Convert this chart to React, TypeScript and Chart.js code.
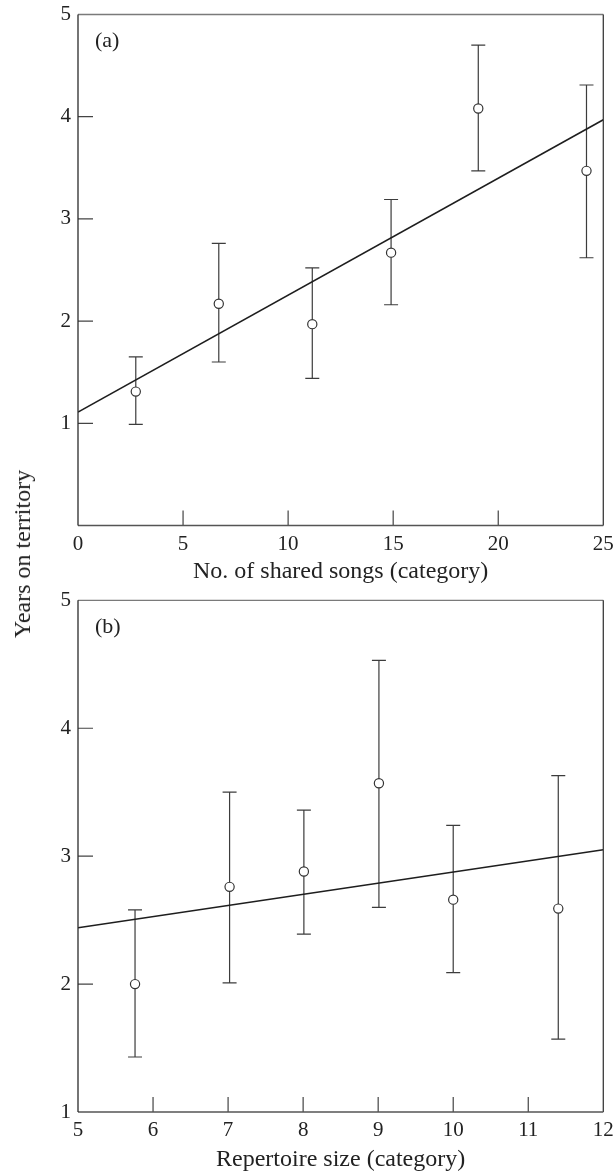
import React, { useEffect, useRef } from 'react';
import { Chart, registerables } from 'chart.js';

Chart.register(...registerables);

// Panel (a): number of shared songs
const sharedSongs = [2.75, 6.7, 11.15, 14.9, 19.05, 24.2];
const yearsA = [1.31, 2.17, 1.97, 2.67, 4.08, 3.47];
const lowA = [0.99, 1.6, 1.44, 2.16, 3.47, 2.62];
const highA = [1.65, 2.76, 2.52, 3.19, 4.7, 4.31];
const fitXA = [0, 25];
const fitYA = [1.11, 3.97];
const innerTicksXA = [5, 10, 15, 20];
const innerTicksYA = [1, 2, 3, 4];

// Panel (b): repertoire size
const repertoire = [5.76, 7.02, 8.01, 9.01, 10.0, 11.4];
const yearsB = [2.0, 2.76, 2.88, 3.57, 2.66, 2.59];
const lowB = [1.43, 2.01, 2.39, 2.6, 2.09, 1.57];
const highB = [2.58, 3.5, 3.36, 4.53, 3.24, 3.63];
const fitXB = [5, 12];
const fitYB = [2.44, 3.05];
const innerTicksXB = [6, 7, 8, 9, 10, 11];
const innerTicksYB = [2, 3, 4];

const FONT_FAMILY = '"Liberation Serif", "Times New Roman", serif';
const FONT_SIZE = 21;
const TITLE_SIZE = 24;
const TEXT = '#222';

const decorPlugin = {
  id: 'panelDecor',
  beforeDatasetsDraw(chart: any, _args: any, opts: any) {
    const { ctx, scales } = chart;
    const x = scales.x;
    const y = scales.y;
    ctx.save();
    ctx.strokeStyle = '#3c3c3c';
    ctx.lineWidth = 1.2;
    opts.xs.forEach((xv: number, i: number) => {
      const px = x.getPixelForValue(xv);
      const pl = y.getPixelForValue(opts.low[i]);
      const ph = y.getPixelForValue(opts.high[i]);
      ctx.beginPath();
      ctx.moveTo(px, pl);
      ctx.lineTo(px, ph);
      ctx.moveTo(px - 7, pl);
      ctx.lineTo(px + 7, pl);
      ctx.moveTo(px - 7, ph);
      ctx.lineTo(px + 7, ph);
      ctx.stroke();
    });
    ctx.restore();
  },
  afterDraw(chart: any, _args: any, opts: any) {
    const { ctx, chartArea: a, scales } = chart;
    const x = scales.x;
    const y = scales.y;
    ctx.save();
    // inward ticks
    ctx.strokeStyle = '#444';
    ctx.lineWidth = 1.2;
    ctx.beginPath();
    opts.yTicks.forEach((v: number) => {
      const py = y.getPixelForValue(v);
      ctx.moveTo(a.left, py);
      ctx.lineTo(a.left + 15, py);
    });
    opts.xTicks.forEach((v: number) => {
      const px = x.getPixelForValue(v);
      ctx.moveTo(px, a.bottom);
      ctx.lineTo(px, a.bottom - 15);
    });
    ctx.stroke();
    // frame
    ctx.lineWidth = 1.3;
    ctx.strokeStyle = '#7a7a7a';
    ctx.beginPath();
    ctx.moveTo(a.left, a.top);
    ctx.lineTo(a.right, a.top);
    ctx.stroke();
    ctx.strokeStyle = '#3a3a3a';
    ctx.beginPath();
    ctx.moveTo(a.right, a.top);
    ctx.lineTo(a.right, a.bottom);
    ctx.stroke();
    ctx.strokeStyle = '#555';
    ctx.beginPath();
    ctx.moveTo(a.left, a.bottom);
    ctx.lineTo(a.right, a.bottom);
    ctx.stroke();
    ctx.strokeStyle = '#2a2a2a';
    ctx.beginPath();
    ctx.moveTo(a.left, a.top);
    ctx.lineTo(a.left, a.bottom);
    ctx.stroke();
    // panel letter
    ctx.fillStyle = TEXT;
    ctx.font = `${FONT_SIZE + 1}px ${FONT_FAMILY}`;
    ctx.textAlign = 'left';
    ctx.textBaseline = 'middle';
    ctx.fillText(opts.letter, a.left + 17, a.top + 27);
    ctx.restore();
  },
};

interface PanelProps {
  width: number;
  height: number;
  top: number;
  padTop: number;
  xAxisHeight: number;
  titlePadBottom: number;
  xs: number[];
  ys: number[];
  low: number[];
  high: number[];
  fitX: number[];
  fitY: number[];
  xMin: number;
  xMax: number;
  xStep: number;
  yMin: number;
  yMax: number;
  hideYMin: boolean;
  xTitle: string;
  letter: string;
  xTicks: number[];
  yTicks: number[];
}

function Panel(p: PanelProps) {
  const ref = useRef<HTMLCanvasElement>(null);
  useEffect(() => {
    if (!ref.current) return;
    const font = { family: FONT_FAMILY, size: FONT_SIZE };
    const titleFont = { family: FONT_FAMILY, size: TITLE_SIZE, lineHeight: 1 };
    const chart = new Chart(ref.current, {
      type: 'scatter',
      data: {
        datasets: [
          {
            data: p.xs.map((xv, i) => ({ x: xv, y: p.ys[i] })),
            pointRadius: 4.6,
            pointHoverRadius: 4.6,
            pointBackgroundColor: '#ffffff',
            pointBorderColor: '#333',
            pointBorderWidth: 1.2,
            showLine: false,
          },
          {
            data: p.fitX.map((xv, i) => ({ x: xv, y: p.fitY[i] })),
            showLine: true,
            borderColor: '#1e1e1e',
            borderWidth: 1.6,
            pointRadius: 0,
            fill: false,
          },
        ],
      },
      options: {
        responsive: false,
        animation: false,
        events: [],
        layout: { padding: { top: p.padTop, left: 0, right: 12.7, bottom: 0 } },
        plugins: {
          legend: { display: false },
          tooltip: { enabled: false },
          panelDecor: {
            xs: p.xs,
            low: p.low,
            high: p.high,
            letter: p.letter,
            xTicks: p.xTicks,
            yTicks: p.yTicks,
          },
        } as any,
        scales: {
          x: {
            type: 'linear',
            min: p.xMin,
            max: p.xMax,
            grid: { display: false, drawTicks: false },
            border: { display: false },
            ticks: {
              stepSize: p.xStep,
              font,
              color: TEXT,
              padding: 6,
              maxRotation: 0,
              autoSkip: false,
            },
            title: {
              display: true,
              text: p.xTitle,
              font: titleFont,
              color: TEXT,
              padding: { top: 0, bottom: p.titlePadBottom },
            },
            afterFit: (s: any) => {
              s.height = p.xAxisHeight;
              s.paddingLeft = 0;
              s.paddingRight = 0;
            },
          },
          y: {
            type: 'linear',
            min: p.yMin,
            max: p.yMax,
            grid: { display: false, drawTicks: false },
            border: { display: false },
            ticks: {
              stepSize: 1,
              font,
              color: TEXT,
              padding: 7,
              callback: (v: any) => (p.hideYMin && v === p.yMin ? '' : String(v)),
            },
            afterFit: (s: any) => {
              s.width = 78;
              s.paddingTop = 0;
              s.paddingBottom = 0;
            },
          },
        },
      },
      plugins: [decorPlugin],
    } as any);
    return () => chart.destroy();
  }, []);
  return (
    <canvas
      ref={ref}
      width={p.width}
      height={p.height}
      style={{ position: 'absolute', left: 0, top: p.top, width: p.width, height: p.height }}
    />
  );
}

export default function App() {
  return (
    <div style={{ position: 'absolute', left: 0, top: 0, width: 616, height: 1172, background: '#fff' }}>
      <Panel
        width={616}
        height={590}
        top={0}
        padTop={14.5}
        xAxisHeight={64.5}
        titlePadBottom={6}
        xs={sharedSongs}
        ys={yearsA}
        low={lowA}
        high={highA}
        fitX={fitXA}
        fitY={fitYA}
        xMin={0}
        xMax={25}
        xStep={5}
        yMin={0}
        yMax={5}
        hideYMin={true}
        xTitle="No. of shared songs (category)"
        letter="(a)"
        xTicks={innerTicksXA}
        yTicks={innerTicksYA}
      />
      <Panel
        width={616}
        height={582}
        top={590}
        padTop={10.3}
        xAxisHeight={60}
        titlePadBottom={0}
        xs={repertoire}
        ys={yearsB}
        low={lowB}
        high={highB}
        fitX={fitXB}
        fitY={fitYB}
        xMin={5}
        xMax={12}
        xStep={1}
        yMin={1}
        yMax={5}
        hideYMin={false}
        xTitle="Repertoire size (category)"
        letter="(b)"
        xTicks={innerTicksXB}
        yTicks={innerTicksYB}
      />
      <div
        style={{
          position: 'absolute',
          left: 22,
          top: 554,
          transform: 'translate(-50%, -50%) rotate(-90deg)',
          whiteSpace: 'nowrap',
          fontFamily: FONT_FAMILY,
          fontSize: TITLE_SIZE,
          color: TEXT,
          lineHeight: 1,
        }}
      >
        Years on territory
      </div>
    </div>
  );
}
